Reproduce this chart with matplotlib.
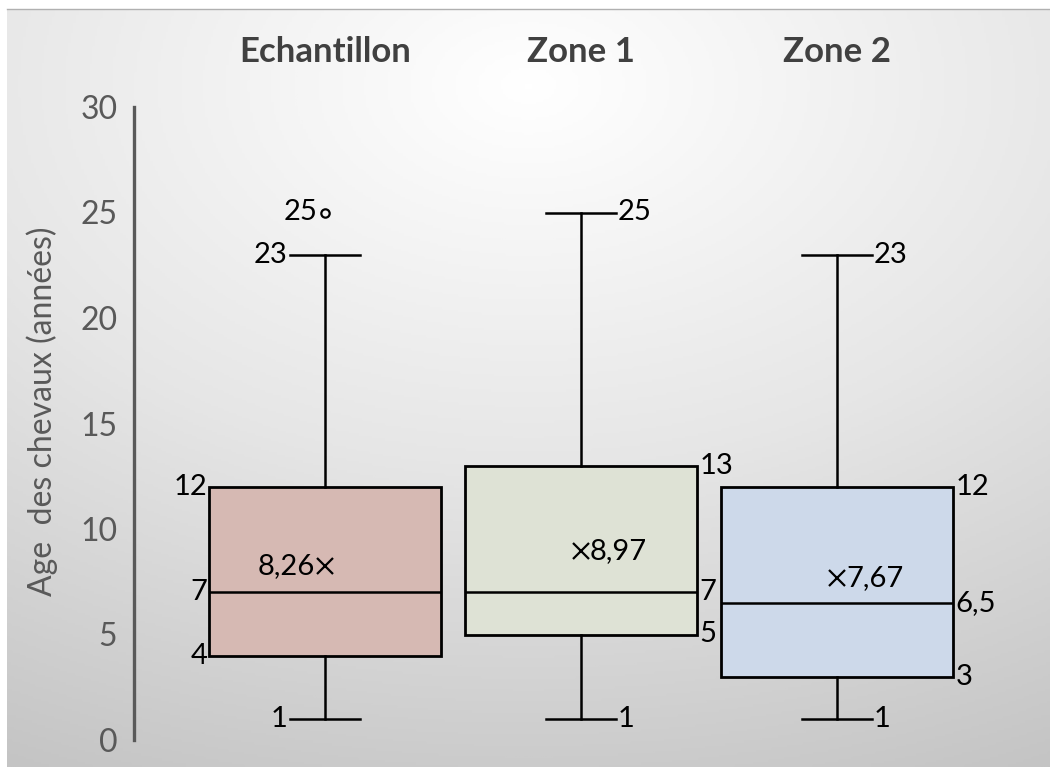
import numpy as np
import matplotlib.pyplot as plt
from matplotlib.colors import LinearSegmentedColormap

plt.rcParams['font.family'] = ['Lato', 'DejaVu Sans']

# summary values
groups = ['Echantillon', 'Zone 1', 'Zone 2']
mins = [1, 1, 1]
q1s = [4, 5, 3]
medians = [7, 7, 6.5]
q3s = [12, 13, 12]
maxs = [23, 25, 23]
means = [8.26, 8.97, 7.67]
outliers = [[25], [], []]
colors = ['#D6B9B3', '#DEE2D5', '#CDD9EA']
yticks = [0, 5, 10, 15, 20, 25, 30]


def fmt(v):
    return ('%g' % v).replace('.', ',')


fig = plt.figure(figsize=(10.5, 7.67), dpi=100)

# background: radial grey gradient like the office chart area
bg = fig.add_axes([7 / 1050, 0, 1 - 7 / 1050, 1 - 9 / 767])
yy, xx = np.mgrid[0:1:300j, 0:1:400j]
r = np.sqrt((xx - 0.5) ** 2 + ((yy - 0.1) * 1.1) ** 2)
r = r / r.max()
cmap = LinearSegmentedColormap.from_list('bg', ['#FFFFFF', '#E6E6E6', '#C4C4C4'])
bg.imshow(r, cmap=cmap, aspect='auto', origin='upper', extent=[0, 1, 0, 1])
bg.set_axis_off()
fig.add_artist(plt.Line2D([7 / 1050, 1], [1 - 9 / 767, 1 - 9 / 767],
                          color='#B0B0B0', lw=1))

ax = fig.add_axes([134 / 1050, 27 / 767, 906 / 1050, 633 / 767])
ax.patch.set_alpha(0)

pos = np.arange(1, len(groups) + 1)
stats = []
for i, g in enumerate(groups):
    stats.append(dict(label=g, med=medians[i], q1=q1s[i], q3=q3s[i],
                      whislo=mins[i], whishi=maxs[i], mean=means[i],
                      fliers=outliers[i]))

bp = ax.bxp(stats, positions=pos, widths=0.906, patch_artist=True,
            showmeans=True, showfliers=True,
            boxprops=dict(edgecolor='black', linewidth=2),
            medianprops=dict(color='black', linewidth=1.8),
            whiskerprops=dict(color='black', linewidth=1.8),
            capprops=dict(color='black', linewidth=1.8),
            capwidths=0.27,
            meanprops=dict(marker='x', markeredgecolor='black',
                           markersize=11, markeredgewidth=1.6),
            flierprops=dict(marker='o', markerfacecolor='none',
                            markeredgecolor='black', markersize=6,
                            markeredgewidth=1.6))
for patch, c in zip(bp['boxes'], colors):
    patch.set_facecolor(c)

ax.set_xlim(0.254, 0.254 + 906 / 256)
ax.set_ylim(0, 30)
ax.set_yticks(yticks)
ax.set_yticklabels([str(t) for t in yticks])
ax.tick_params(axis='y', length=0, pad=12, labelsize=23, labelcolor='#595959')
ax.set_xticks([])
for s in ['top', 'right', 'bottom']:
    ax.spines[s].set_visible(False)
ax.spines['left'].set_color('#595959')
ax.spines['left'].set_linewidth(2.4)
ax.set_ylabel('Age  des chevaux (années)', fontsize=23, color='#595959')
ax.yaxis.set_label_coords(-76 / 906, 0.52)

fs = 21
hb = 0.453
hc = 0.135
for i, x in enumerate(pos):
    if i == 0:
        # labels on the left side
        ax.text(x - hc - 0.01, maxs[i], fmt(maxs[i]), ha='right', va='center', fontsize=fs)
        ax.text(x - hc - 0.01, mins[i], fmt(mins[i]), ha='right', va='center', fontsize=fs)
        for v in (q1s[i], medians[i], q3s[i]):
            ax.text(x - hb - 0.005, v, fmt(v), ha='right', va='center', fontsize=fs)
        for o in outliers[i]:
            ax.text(x - 0.03, o, fmt(o), ha='right', va='center', fontsize=fs)
        ax.text(x - 0.04, means[i], fmt(means[i]), ha='right', va='center', fontsize=fs)
    else:
        ax.text(x + hc + 0.01, maxs[i], fmt(maxs[i]), ha='left', va='center', fontsize=fs)
        ax.text(x + hc + 0.01, mins[i], fmt(mins[i]), ha='left', va='center', fontsize=fs)
        for v in (q1s[i], medians[i], q3s[i]):
            ax.text(x + hb + 0.01, v, fmt(v), ha='left', va='center', fontsize=fs)
        ax.text(x + 0.035, means[i], fmt(means[i]), ha='left', va='center', fontsize=fs)
    # group titles above the plot
    ax.text(x, (740 - 52) / 633, groups[i], transform=ax.get_xaxis_transform(),
            ha='center', va='center', fontsize=25, fontweight='bold',
            color='#404040')

fig.savefig('out.png', dpi=100)
